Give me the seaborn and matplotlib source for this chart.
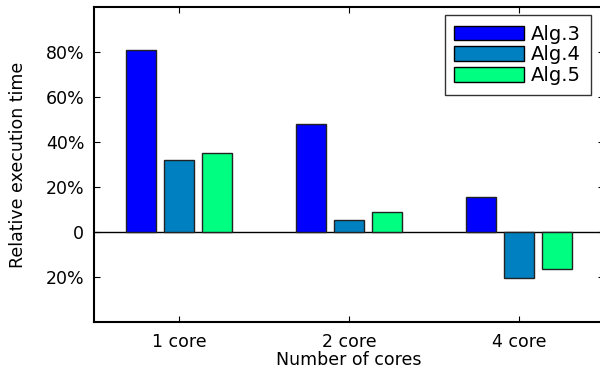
import matplotlib
matplotlib.use("Agg")
import matplotlib.pyplot as plt
import seaborn as sns
import pandas as pd
from matplotlib.ticker import FuncFormatter

# Relative execution time (%) per core count and algorithm
cores = ["1 core", "2 core", "4 core"]
algorithms = ["Alg.3", "Alg.4", "Alg.5"]
alg3 = [81.0, 48.0, 15.5]
alg4 = [32.0, 5.2, -20.5]
alg5 = [35.0, 9.0, -16.5]
y_ticks = [-20, 0, 20, 40, 60, 80]

colors = ["#0000FF", "#0080C0", "#00FF80"]

rows = []
for alg, vals in zip(algorithms, [alg3, alg4, alg5]):
    for c, v in zip(cores, vals):
        rows.append({"cores": c, "alg": alg, "value": v})
df = pd.DataFrame(rows)

sns.set_style("white")
plt.rcParams["font.family"] = ["DejaVu Sans"]
plt.rcParams["text.color"] = "black"
plt.rcParams["axes.labelcolor"] = "black"

W, H = 600, 371
fig = plt.figure(figsize=(W / 100, H / 100), dpi=100)
ax = fig.add_axes([94 / W, 1 - 322 / H, 510 / W, 315 / H])

sns.barplot(data=df, x="cores", y="value", hue="alg", order=cores,
            hue_order=algorithms, palette=colors, width=0.667, gap=0.2,
            edgecolor="#222222", linewidth=1.0, saturation=1.0, ax=ax,
            errorbar=None)

ax.axhline(0, color="black", lw=1.0, zorder=0.5)

ax.set_xlim(-0.5, 2.5)
ax.set_ylim(-40, 100)
ax.set_yticks(y_ticks)
ax.yaxis.set_major_formatter(
    FuncFormatter(lambda v, p: "0" if v == 0 else f"{abs(int(round(v)))}%"))

ax.tick_params(axis="both", direction="in", length=4, width=0.8,
               labelsize=12.5, colors="black", top=True, right=True,
               left=True, bottom=True)
ax.tick_params(axis="y", pad=7)
ax.tick_params(axis="x", pad=8)
for s in ax.spines.values():
    s.set_visible(True)
    s.set_color("black")
    s.set_linewidth(1.5)

ax.set_xlabel("Number of cores", fontsize=12.5, labelpad=0, color="black")
ax.set_ylabel("Relative execution time", fontsize=12.5, labelpad=13, color="black")

handles, labels = ax.get_legend_handles_labels()
leg = ax.legend(handles, labels, loc="upper right",
                bbox_to_anchor=(591 / W, 1 - 15 / H), bbox_transform=fig.transFigure,
                fontsize=14, frameon=True, fancybox=False, edgecolor="black",
                handlelength=3.6, handleheight=0.8, handletextpad=0.35,
                labelspacing=0.08, borderpad=0.5, borderaxespad=0)
leg.get_frame().set_linewidth(1.0)
for h in leg.legend_handles:
    h.set_edgecolor("black")
for t in leg.get_texts():
    t.set_color("black")

fig.savefig("out.png", dpi=100)
